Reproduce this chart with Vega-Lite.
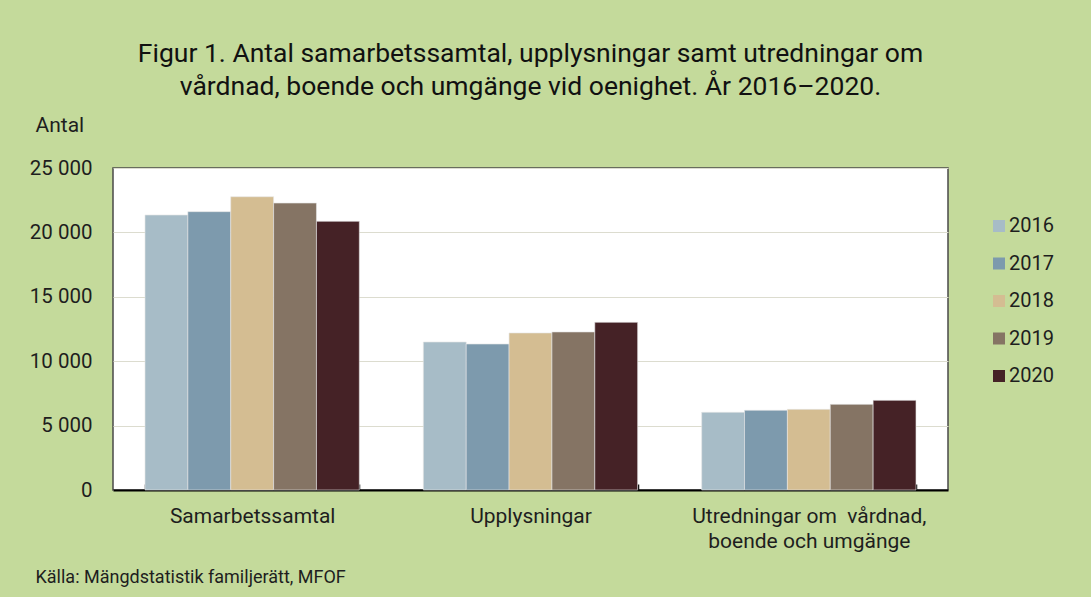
{
  "$schema": "https://vega.github.io/schema/vega-lite/v6.json",
  "width": 835,
  "height": 322,
  "autosize": {"type": "none"},
  "padding": {"left": 113, "top": 168, "right": 143, "bottom": 107},
  "background": "#c4da9b",
  "config": {
    "font": "Roboto",
    "view": {"fill": "#ffffff", "stroke": "#4a4a4a", "strokeWidth": 1.5},
    "axis": {"labelColor": "#1e1e1e", "titleColor": "#1e1e1e", "labelFont": "Roboto", "titleFont": "Roboto"},
    "legend": {"padding": 0}
  },
  "title": {
    "text": ["Figur 1. Antal samarbetssamtal, upplysningar samt utredningar om", "vårdnad, boende och umgänge vid oenighet. År 2016–2020."],
    "fontSize": 26.5,
    "fontWeight": "normal",
    "font": "Roboto",
    "color": "#111111",
    "lineHeight": 33,
    "anchor": "middle",
    "frame": "group",
    "offset": 14
  },
  "data": {
    "values": [
      {"category": "Samarbetssamtal", "year": "2016", "value": 21350},
      {"category": "Samarbetssamtal", "year": "2017", "value": 21610},
      {"category": "Samarbetssamtal", "year": "2018", "value": 22770},
      {"category": "Samarbetssamtal", "year": "2019", "value": 22280},
      {"category": "Samarbetssamtal", "year": "2020", "value": 20860},
      {"category": "Upplysningar", "year": "2016", "value": 11490},
      {"category": "Upplysningar", "year": "2017", "value": 11335},
      {"category": "Upplysningar", "year": "2018", "value": 12190},
      {"category": "Upplysningar", "year": "2019", "value": 12270},
      {"category": "Upplysningar", "year": "2020", "value": 13020},
      {"category": "Utredningar om \u00a0vårdnad,|boende och umgänge", "year": "2016", "value": 6030},
      {"category": "Utredningar om \u00a0vårdnad,|boende och umgänge", "year": "2017", "value": 6185},
      {"category": "Utredningar om \u00a0vårdnad,|boende och umgänge", "year": "2018", "value": 6260},
      {"category": "Utredningar om \u00a0vårdnad,|boende och umgänge", "year": "2019", "value": 6650},
      {"category": "Utredningar om \u00a0vårdnad,|boende och umgänge", "year": "2020", "value": 6960}
    ]
  },
  "mark": {"type": "bar", "stroke": "#e6e6e6", "strokeWidth": 0.6},
  "encoding": {
    "x": {
      "field": "category",
      "type": "nominal",
      "sort": null,
      "scale": {"paddingInner": 0.23, "paddingOuter": 0.115},
      "axis": {
        "title": "Källa: Mängdstatistik familjerätt, MFOF",
        "titleFontSize": 18,
        "titleFontWeight": "normal",
        "titleX": -78,
        "titleY": 87,
        "titleAlign": "left",
        "titleBaseline": "middle",
        "labelAngle": 0,
        "labelFontSize": 21,
        "labelLineHeight": 25,
        "labelPadding": 21,
        "labelLimit": 400,
        "labelBaseline": "top",
        "labelExpr": "split(datum.label, '|')",
        "domainColor": "#000000",
        "domainWidth": 2,
        "tickBand": "extent",
        "tickColor": "#000000",
        "tickSize": -6,
        "tickWidth": 1.5,
        "grid": false
      }
    },
    "xOffset": {"field": "year", "type": "nominal", "scale": {"paddingInner": 0, "paddingOuter": 0}},
    "y": {
      "field": "value",
      "type": "quantitative",
      "scale": {"domain": [0, 25000], "nice": false},
      "axis": {
        "values": [0, 5000, 10000, 15000, 20000, 25000],
        "labelExpr": "replace(format(datum.value, ','), ',', ' ')",
        "labelFontSize": 20.5,
        "labelPadding": 21,
        "domain": false,
        "ticks": false,
        "grid": true,
        "gridColor": "#dcdccf",
        "gridWidth": 1,
        "title": "Antal",
        "titleFontSize": 21,
        "titleFontWeight": "normal",
        "titleAngle": 0,
        "titleX": -78,
        "titleY": -43,
        "titleAlign": "left",
        "titleBaseline": "middle"
      }
    },
    "color": {
      "field": "year",
      "type": "nominal",
      "scale": {"domain": ["2016", "2017", "2018", "2019", "2020"], "range": ["#a7bcc7", "#7d9aad", "#d4bd92", "#857464", "#452226"]},
      "legend": {
        "title": null,
        "orient": "none",
        "legendX": 876,
        "legendY": 48,
        "symbolType": "square",
        "symbolSize": 144,
        "symbolStrokeWidth": 0,
        "labelFontSize": 20,
        "labelColor": "#1e1e1e",
        "labelOffset": 0,
        "rowPadding": 17.5
      }
    }
  }
}
